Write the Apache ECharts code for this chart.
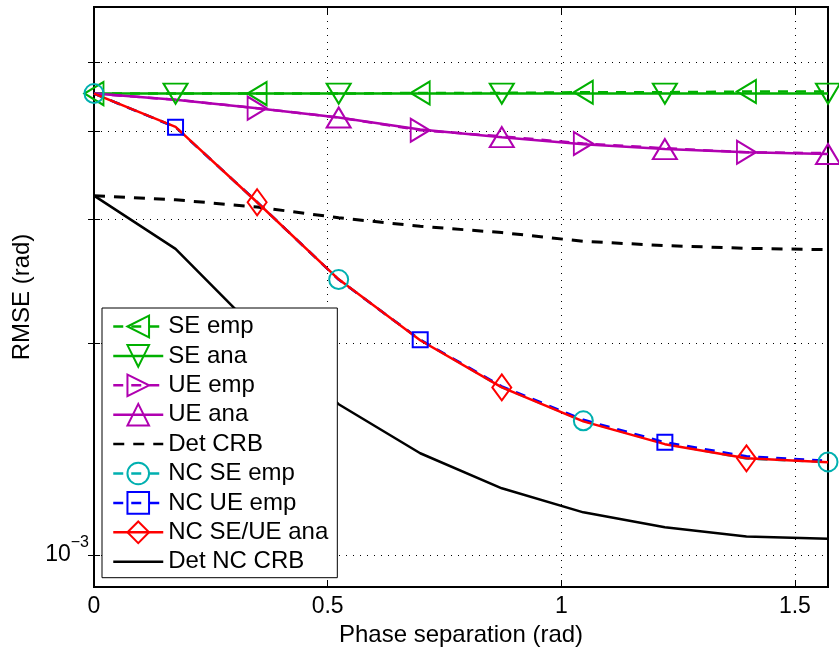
<!DOCTYPE html>
<html>
<head>
<meta charset="utf-8">
<script src="https://cdn.jsdelivr.net/npm/echarts@6/dist/echarts.min.js"></script>
<style>
  html, body { margin: 0; padding: 0; background: #fff; }
  #chart { width: 839px; height: 648px; }
</style>
</head>
<body>
<div id="chart"></div>
<script>
// Phase separation (rad), 0 .. pi/2 in ten steps
const phase = [0, 0.1745, 0.3491, 0.5236, 0.6981, 0.8727, 1.0472, 1.2217, 1.3963, 1.5708];

// RMSE (rad) per curve
const seEmp    = [0.00452, 0.00452, 0.00452, 0.00452, 0.00453, 0.00453, 0.00454, 0.00454, 0.00455, 0.00455];
const seAna    = [0.00452, 0.00452, 0.00452, 0.00452, 0.00452, 0.00452, 0.00452, 0.00452, 0.00452, 0.00452];
const ueEmp    = [0.00452, 0.00443, 0.00431, 0.00418, 0.00401, 0.00393, 0.00384, 0.00378, 0.00373, 0.00372];
const ueAna    = [0.00452, 0.00443, 0.00431, 0.00418, 0.00402, 0.00392, 0.00383, 0.00377, 0.00373, 0.00371];
const detCrb   = [0.003237, 0.003194, 0.003119, 0.003011, 0.002928, 0.002869, 0.002788, 0.002749, 0.002725, 0.002713];
const ncSeEmp  = [0.00452, 0.00405, 0.00317, 0.00246, 0.00202, 0.00173, 0.00155, 0.00144, 0.00137, 0.001355];
const ncUeEmp  = [0.00452, 0.00405, 0.00317, 0.00246, 0.00202, 0.001735, 0.001555, 0.001445, 0.00138, 0.00136];
const ncAna    = [0.00452, 0.004053, 0.003168, 0.002462, 0.002017, 0.001729, 0.001547, 0.001436, 0.001371, 0.001353];
const detNcCrb = [0.003237, 0.00272, 0.002078, 0.001636, 0.001394, 0.001243, 0.001149, 0.001094, 0.001062, 0.001054];

// Axis ticks
const xTicks = [0, 0.5, 1, 1.5];
const yTicks = [0.001, 0.002, 0.003, 0.004, 0.005];
const yLabelTicks = [0.001];

const FONT = "'Liberation Sans', Arial, Helvetica, sans-serif";
const GREEN = '#00b000', PURPLE = '#b000b0', CYAN = '#00b0b0', BLUE = '#0000ff', RED = '#ff0000', BLACK = '#000000';

// One line series; markers only on the listed point indices
function curve(name, values, color, o) {
  const marks = o.marks || [];
  return {
    type: 'line',
    name: name,
    data: phase.map((x, i) => marks.indexOf(i) >= 0
      ? [x, values[i]]
      : { value: [x, values[i]], symbol: 'none' }),
    symbol: o.symbol || 'none',
    symbolSize: o.size || 10,
    symbolRotate: o.rotate || 0,
    lineStyle: { color: color, width: o.width || 2.5, type: o.dash || 'solid', cap: 'butt' },
    itemStyle: { color: 'rgba(0,0,0,0)', borderColor: color, borderWidth: o.symbol ? 2 : 0 },
    emphasis: { disabled: true },
    silent: true,
    animation: false
  };
}

const series = [
  curve('SE emp', seEmp, GREEN, { marks: [0, 2, 4, 6, 8], symbol: 'triangle', size: [23, 19], rotate: 90, dash: [10, 8] }),
  curve('SE ana', seAna, GREEN, { marks: [1, 3, 5, 7, 9], symbol: 'triangle', size: [24, 20], rotate: 180 }),
  curve('UE emp', ueEmp, PURPLE, { marks: [2, 4, 6, 8], symbol: 'triangle', size: [23, 19], rotate: -90, dash: [10, 8] }),
  curve('UE ana', ueAna, PURPLE, { marks: [3, 5, 7, 9], symbol: 'triangle', size: [24, 20], rotate: 0 }),
  curve('Det CRB', detCrb, BLACK, { dash: [11, 9], width: 3 }),
  curve('NC SE emp', ncSeEmp, CYAN, { marks: [0, 3, 6, 9], symbol: 'circle', size: 19, dash: [10, 8] }),
  curve('NC UE emp', ncUeEmp, BLUE, { marks: [1, 4, 7], symbol: 'rect', size: 15, dash: [10, 8] }),
  curve('NC SE/UE ana', ncAna, RED, { marks: [2, 5, 8], symbol: 'diamond', size: [19, 26] }),
  curve('Det NC CRB', detNcCrb, BLACK, {})
];

const dotted = { color: '#000', width: 1, type: [1, 6] };
const tickStyle = { color: '#000', width: 1 };

const option = {
  backgroundColor: '#fff',
  animation: false,
  textStyle: { fontFamily: FONT, color: '#000' },
  grid: {
    left: 94, top: 7, width: 734, height: 580,
    show: true, borderColor: '#000', borderWidth: 2, backgroundColor: '#fff',
    containLabel: false, outerBoundsMode: 'none'
  },
  legend: {
    orient: 'vertical',
    left: 102, top: 308,
    padding: [6.5, 9, 4, 10],
    itemWidth: 50, itemHeight: 27, itemGap: 5.4,
    backgroundColor: '#fff', borderColor: '#000', borderWidth: 1, borderRadius: 0,
    selectedMode: false,
    textStyle: { fontFamily: FONT, fontSize: 24, color: '#000' },
    lineStyle: { width: 2.5 },
    data: series.map(s => s.name)
  },
  xAxis: [{
    type: 'value', position: 'bottom', min: 0, max: 1.5708,
    name: 'Phase separation (rad)', nameLocation: 'middle', nameGap: 33,
    nameTextStyle: { fontFamily: FONT, fontSize: 24, color: '#000' },
    axisLine: { show: false },
    axisTick: { show: true, inside: true, length: 7, lineStyle: tickStyle, customValues: xTicks },
    axisLabel: { customValues: xTicks, fontFamily: FONT, fontSize: 23, color: '#000', margin: 8,
                 formatter: v => String(v) },
    splitLine: { show: true, lineStyle: dotted }
  }, {
    type: 'value', position: 'top', min: 0, max: 1.5708,
    axisLine: { show: false },
    axisTick: { show: true, inside: true, length: 7, lineStyle: tickStyle, customValues: xTicks },
    axisLabel: { show: false },
    splitLine: { show: false }
  }],
  yAxis: [{
    type: 'log', logBase: 10, position: 'left', min: 0.0009, max: 0.006,
    name: 'RMSE (rad)', nameLocation: 'middle', nameGap: 56,
    nameTextStyle: { fontFamily: FONT, fontSize: 24, color: '#000' },
    axisLine: { show: false },
    axisTick: { show: true, inside: true, length: 6, lineStyle: tickStyle, customValues: yTicks },
    axisLabel: {
      customValues: yLabelTicks, margin: 5, align: 'right',
      formatter: v => '{b|10}{s|\u22123}',
      rich: {
        b: { fontFamily: FONT, fontSize: 23, color: '#000' },
        s: { fontFamily: FONT, fontSize: 16, color: '#000', padding: [0, 0, 24, 0] }
      }
    },
    splitLine: { show: true, lineStyle: dotted }
  }, {
    type: 'log', logBase: 10, position: 'right', min: 0.0009, max: 0.006,
    axisLine: { show: false },
    axisTick: { show: true, inside: true, length: 6, lineStyle: tickStyle, customValues: yTicks },
    axisLabel: { show: false },
    splitLine: { show: false }
  }],
  series: series
};

const chart = echarts.init(document.getElementById('chart'), null, { renderer: 'canvas' });
chart.setOption(option);
</script>
</body>
</html>
